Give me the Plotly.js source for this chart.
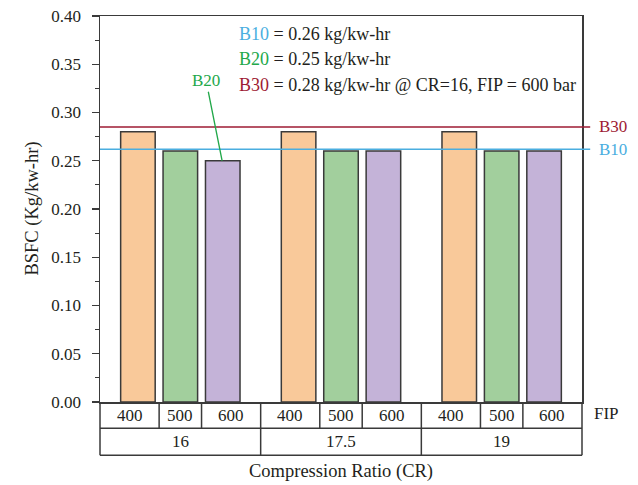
<!DOCTYPE html>
<html>
<head>
<meta charset="utf-8">
<script src="https://cdn.plot.ly/plotly-3.0.1.min.js"></script>
<style>html,body{margin:0;padding:0;background:#fff;}#chart{width:638px;height:485px;}</style>
</head>
<body>
<div id="chart"></div>
<script>
// ---- data ----
const crLabels = ['16', '17.5', '19'];
const fipLabels = ['400', '500', '600'];
const bsfcFip400 = [0.28, 0.28, 0.28];
const bsfcFip500 = [0.26, 0.26, 0.26];
const bsfcFip600 = [0.25, 0.26, 0.26];
const refNames = ['B30', 'B10'];
const refValues = [0.285, 0.262];
const noteLines = [
  ['B10', ' = 0.26 kg/kw-hr'],
  ['B20', ' = 0.25 kg/kw-hr'],
  ['B30', ' = 0.28 kg/kw-hr @ CR=16, FIP = 600 bar']
];
const yTicks = [0, 0.05, 0.10, 0.15, 0.20, 0.25, 0.30, 0.35, 0.40];

// ---- styles ----
const FONT = 'Liberation Serif, Times New Roman, serif';
const TXT = '#231f20';
const barColors = ['#f9c99a', '#a2cf9d', '#c4b3d8'];
const fuelColors = {B10: '#4aaee0', B20: '#22a84a', B30: '#9e1b33'};
const edge = '#3a3a3a';
const offsets = [0.236, 0.5, 0.764];
const barW = 0.215;
const xRange = [0, crLabels.length];
const toPaper = x => (x - xRange[0]) / (xRange[1] - xRange[0]);
const row1 = -0.068, row2 = -0.138;

const series = [bsfcFip400, bsfcFip500, bsfcFip600];
const traces = series.map((vals, b) => ({
  type: 'bar',
  x: crLabels.map((_, g) => g + offsets[b]),
  y: vals,
  width: barW,
  name: fipLabels[b],
  marker: {color: barColors[b], line: {color: edge, width: 1.5}},
  hoverinfo: 'y'
}));

const shapes = [];
const annotations = [];

// reference lines
refValues.forEach((v, i) => {
  const c = fuelColors[refNames[i]];
  shapes.push({type: 'line', xref: 'paper', yref: 'y', x0: 0, x1: 1.017, y0: v, y1: v,
    line: {color: c, width: i === 0 ? 1.3 : 1.5}, layer: 'above'});
  annotations.push({xref: 'paper', yref: 'y', x: 1.032, y: v, xanchor: 'left', yanchor: 'middle',
    text: refNames[i], showarrow: false, font: {family: FONT, size: 17, color: c}});
});

// note lines
const noteY = [0.953, 0.889, 0.822];
noteLines.forEach((ln, i) => {
  annotations.push({xref: 'paper', yref: 'paper', x: 0.284, y: noteY[i], xanchor: 'left', yanchor: 'middle',
    text: '<span style="color:' + fuelColors[ln[0]] + '">' + ln[0] + '</span>' + ln[1],
    showarrow: false, font: {family: FONT, size: 18, color: TXT}});
});

// B20 callout
annotations.push({xref: 'x', yref: 'y', x: 0 + offsets[2] - 0.004, y: bsfcFip600[0],
  text: 'B20', showarrow: true, arrowhead: 0, arrowwidth: 1.3, arrowcolor: fuelColors.B20,
  ax: -16, ay: -80, standoff: 0, font: {family: FONT, size: 17, color: fuelColors.B20}});

// table
const tl = {color: edge, width: 1.5};
[row1, row2].forEach(y => shapes.push({type: 'line', xref: 'paper', yref: 'paper', x0: 0, x1: 1, y0: y, y1: y, line: tl}));
for (let g = 0; g <= crLabels.length; g++) {
  shapes.push({type: 'line', xref: 'paper', yref: 'paper', x0: toPaper(g), x1: toPaper(g), y0: 0, y1: row2, line: tl});
}
crLabels.forEach((cr, g) => {
  [(offsets[0] + offsets[1]) / 2, (offsets[1] + offsets[2]) / 2].forEach(o => {
    shapes.push({type: 'line', xref: 'paper', yref: 'paper', x0: toPaper(g + o), x1: toPaper(g + o), y0: 0, y1: row1, line: tl});
  });
  const bounds = [0, (offsets[0] + offsets[1]) / 2, (offsets[1] + offsets[2]) / 2, 1];
  fipLabels.forEach((f, b) => {
    annotations.push({xref: 'paper', yref: 'paper', x: toPaper(g + (bounds[b] + bounds[b + 1]) / 2), y: row1 / 2,
      xanchor: 'center', yanchor: 'middle', text: f, showarrow: false, font: {family: FONT, size: 17, color: TXT}});
  });
  annotations.push({xref: 'paper', yref: 'paper', x: toPaper(g + 0.5), y: (row1 + row2) / 2,
    xanchor: 'center', yanchor: 'middle', text: cr, showarrow: false, font: {family: FONT, size: 17, color: TXT}});
});
annotations.push({xref: 'paper', yref: 'paper', x: 1.021, y: row1 / 2 + 0.003, xanchor: 'left', yanchor: 'middle',
  text: 'FIP', showarrow: false, font: {family: FONT, size: 17, color: TXT}});

// axis titles
annotations.push({xref: 'paper', yref: 'paper', x: 0.5, y: -0.18, xanchor: 'center', yanchor: 'middle',
  text: 'Compression Ratio (CR)', showarrow: false, font: {family: FONT, size: 18.5, color: TXT}});
annotations.push({xref: 'paper', yref: 'paper', x: -0.142, y: 0.5, xanchor: 'center', yanchor: 'middle', textangle: -90,
  text: 'BSFC (Kg/kw-hr)', showarrow: false, font: {family: FONT, size: 18.5, color: TXT}});

const layout = {
  width: 638, height: 485,
  margin: {l: 100, r: 56, t: 16, b: 83},
  paper_bgcolor: '#fff', plot_bgcolor: '#fff',
  showlegend: false,
  barmode: 'overlay',
  font: {family: FONT, size: 17, color: TXT},
  xaxis: {range: xRange, showgrid: false, zeroline: false, showticklabels: false, ticks: '',
    showline: true, mirror: true, linecolor: edge, linewidth: 1.5, fixedrange: true},
  yaxis: {range: [0, 0.40], tickvals: yTicks, ticktext: yTicks.map(v => v.toFixed(2)),
    showgrid: false, zeroline: false, ticks: 'outside', ticklen: 7, tickwidth: 1.2, tickcolor: edge,
    ticklabelstandoff: 7,
    minor: {dtick: 0.025, tick0: 0, ticks: 'outside', ticklen: 4, tickwidth: 1.2, tickcolor: edge, showgrid: false},
    showline: true, mirror: true, linecolor: edge, linewidth: 1.5,
    tickfont: {family: FONT, size: 17, color: TXT}, fixedrange: true},
  shapes: shapes,
  annotations: annotations
};

Plotly.newPlot('chart', traces, layout, {displayModeBar: false, staticPlot: true});
</script>
</body>
</html>
